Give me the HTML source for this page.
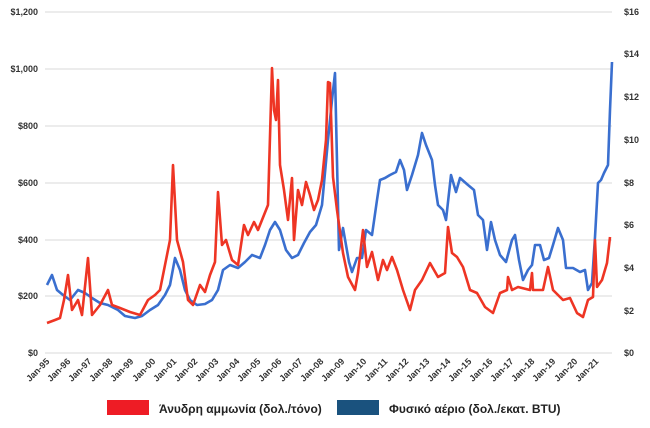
<!DOCTYPE html>
<html><head><meta charset="utf-8"><style>
body{margin:0;background:#fff;}
svg{display:block;font-family:"Liberation Sans",sans-serif;}
.t{font-size:9px;fill:#333;font-weight:bold;}
</style></head><body>
<svg width="650" height="428" viewBox="0 0 650 428">
<g stroke="#d9d9d9" stroke-width="1">
<line x1="45" x2="612" y1="12" y2="12"/><line x1="45" x2="612" y1="69" y2="69"/>
<line x1="45" x2="612" y1="126" y2="126"/><line x1="45" x2="612" y1="183" y2="183"/>
<line x1="45" x2="612" y1="240" y2="240"/><line x1="45" x2="612" y1="296" y2="296"/>
<line x1="45" x2="612" y1="353" y2="353"/>
</g>
<g class="t" text-anchor="end">
<text x="38" y="15">$1,200</text><text x="38" y="72">$1,000</text><text x="38" y="129">$800</text>
<text x="38" y="186">$600</text><text x="38" y="243">$400</text><text x="38" y="299">$200</text><text x="38" y="356">$0</text>
</g>
<g class="t" text-anchor="start">
<text x="624" y="15">$16</text><text x="624" y="57">$14</text><text x="624" y="100">$12</text><text x="624" y="143">$10</text>
<text x="624" y="186">$8</text><text x="624" y="228">$6</text><text x="624" y="271">$4</text><text x="624" y="314">$2</text><text x="624" y="356">$0</text>
</g>
<g class="t" text-anchor="end" font-size="8">
<text transform="translate(50,362) rotate(-45)">Jan-95</text>
<text transform="translate(71,362) rotate(-45)">Jan-96</text>
<text transform="translate(92,362) rotate(-45)">Jan-97</text>
<text transform="translate(113,362) rotate(-45)">Jan-98</text>
<text transform="translate(134,362) rotate(-45)">Jan-99</text>
<text transform="translate(156,362) rotate(-45)">Jan-00</text>
<text transform="translate(177,362) rotate(-45)">Jan-01</text>
<text transform="translate(198,362) rotate(-45)">Jan-02</text>
<text transform="translate(219,362) rotate(-45)">Jan-03</text>
<text transform="translate(240,362) rotate(-45)">Jan-04</text>
<text transform="translate(261,362) rotate(-45)">Jan-05</text>
<text transform="translate(282,362) rotate(-45)">Jan-06</text>
<text transform="translate(303,362) rotate(-45)">Jan-07</text>
<text transform="translate(324,362) rotate(-45)">Jan-08</text>
<text transform="translate(345,362) rotate(-45)">Jan-09</text>
<text transform="translate(367,362) rotate(-45)">Jan-10</text>
<text transform="translate(388,362) rotate(-45)">Jan-11</text>
<text transform="translate(409,362) rotate(-45)">Jan-12</text>
<text transform="translate(430,362) rotate(-45)">Jan-13</text>
<text transform="translate(451,362) rotate(-45)">Jan-14</text>
<text transform="translate(472,362) rotate(-45)">Jan-15</text>
<text transform="translate(493,362) rotate(-45)">Jan-16</text>
<text transform="translate(514,362) rotate(-45)">Jan-17</text>
<text transform="translate(535,362) rotate(-45)">Jan-18</text>
<text transform="translate(556,362) rotate(-45)">Jan-19</text>
<text transform="translate(578,362) rotate(-45)">Jan-20</text>
<text transform="translate(599,362) rotate(-45)">Jan-21</text>
</g>
<polyline fill="none" stroke="#3a6fcf" stroke-width="2.6" stroke-linejoin="round" points="47,285 52,275 57,290 63,295 70,300 78,290 85,293 92,298 100,303 108,305 118,310 125,316 135,318 142,316 150,310 158,305 165,295 170,285 175,258 180,270 185,290 190,300 197,305 205,304 212,300 218,290 223,270 230,265 238,268 245,262 252,255 260,258 265,245 270,230 275,222 280,230 286,250 292,258 298,255 304,243 310,232 316,225 322,205 328,140 332,100 335,73 339,250 343,228 349,262 352,272 357,258 362,258 366,230 372,235 377,200 380,180 385,178 390,175 396,172 400,160 404,170 407,190 412,175 418,155 422,133 426,145 432,160 435,185 438,205 443,210 446,220 451,175 456,192 460,178 468,185 474,190 478,215 483,220 487,250 491,222 495,240 500,255 506,262 512,240 515,235 519,260 523,280 528,270 532,265 535,245 540,245 544,260 549,258 553,245 558,228 563,240 566,268 573,268 580,272 585,270 588,290 592,283 595,237 598,183 601,180 604,173 608,165 610,110 612,62"/>
<polyline fill="none" stroke="#ee3524" stroke-width="2.6" stroke-linejoin="round" points="47,323 55,320 60,318 64,300 68,275 72,310 78,300 82,315 88,258 92,315 100,305 108,290 112,305 120,308 130,312 140,315 148,300 155,295 160,290 165,265 170,240 173,165 177,240 183,262 188,300 193,305 200,285 205,292 210,275 215,262 218,192 222,245 226,240 232,260 238,265 244,225 248,235 254,222 258,230 264,215 268,205 272,68 274,110 276,120 278,80 280,165 284,190 288,220 292,178 294,240 298,190 302,205 306,182 310,195 314,210 318,200 322,180 326,140 328,82 330,83 333,177 337,210 343,253 348,277 355,290 358,273 363,230 367,267 372,252 378,280 383,260 387,270 392,257 397,270 403,290 410,310 415,290 422,280 430,263 438,277 445,273 448,227 452,253 457,257 463,267 470,290 477,293 485,307 493,313 500,293 507,290 508,277 512,290 518,287 530,290 532,273 533,290 543,290 548,267 553,290 563,300 570,298 577,313 583,317 588,300 593,297 595,240 597,287 602,280 607,263 610,237"/>
<rect x="107" y="400" width="42" height="15" fill="#ee1c25"/>
<text x="159" y="413" font-size="12" font-weight="bold" fill="#222">Άνυδρη αμμωνία (δολ./τόνο)</text>
<rect x="337" y="400" width="42" height="15" fill="#1a527e"/>
<text x="389" y="413" font-size="12" font-weight="bold" fill="#222">Φυσικό αέριο (δολ./εκατ. BTU)</text>
</svg>
</body></html>
